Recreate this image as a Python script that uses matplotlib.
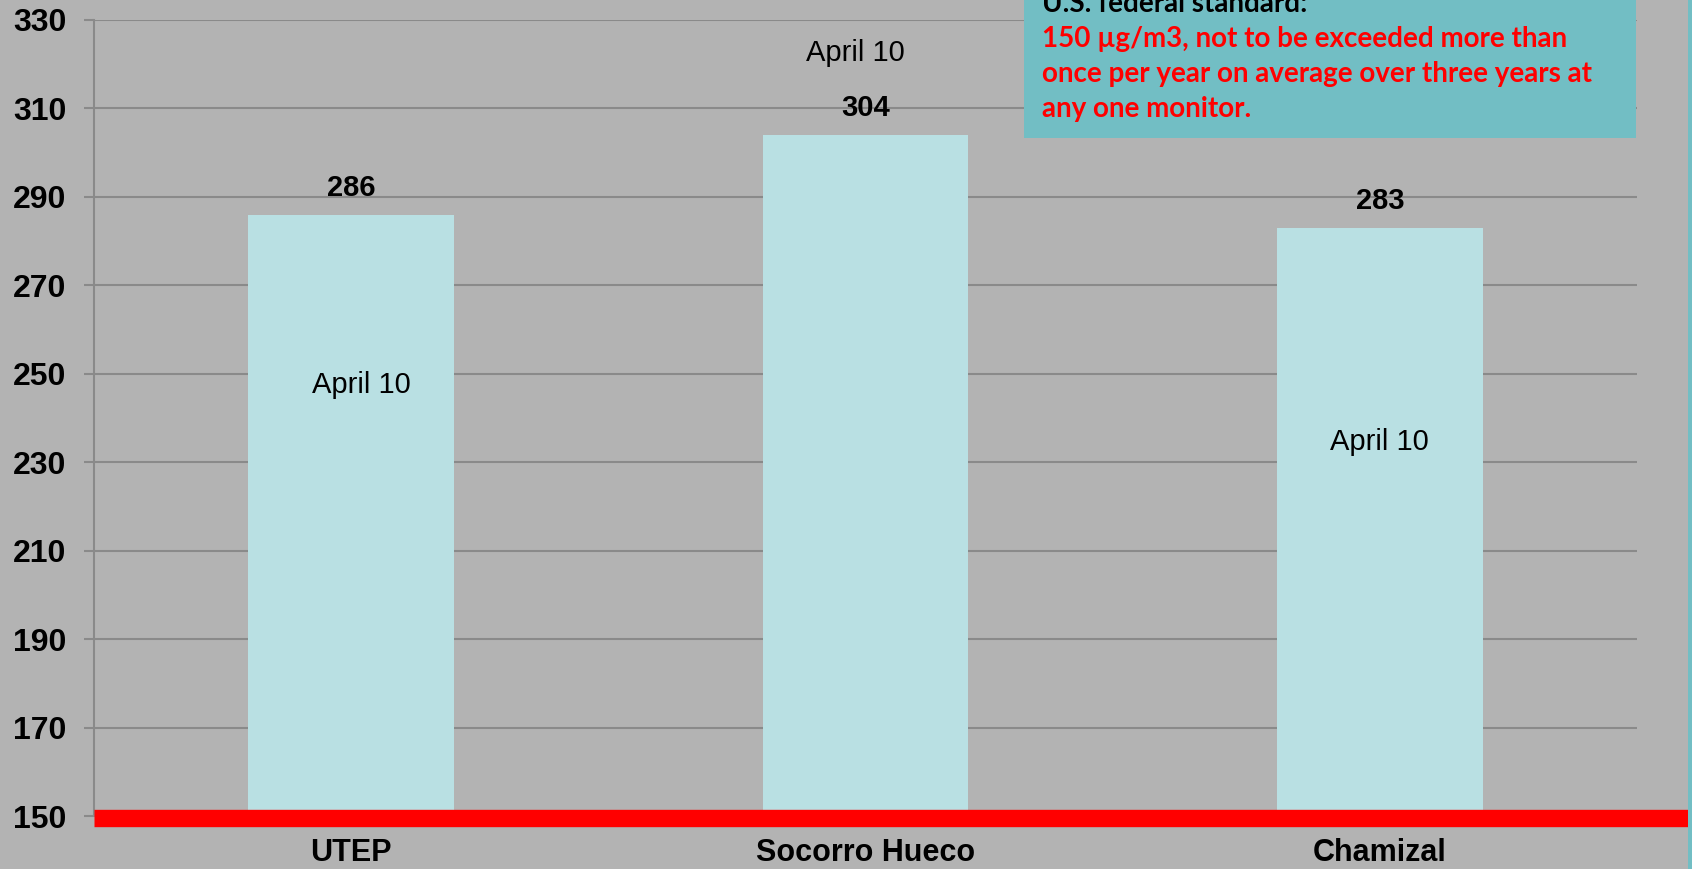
import matplotlib
matplotlib.use("Agg")
import matplotlib.pyplot as plt
from matplotlib.patches import Rectangle

# data
sites = ["UTEP", "Socorro Hueco", "Chamizal"]
pm10 = [286, 304, 283]
dates = ["April 10", "April 10", "April 10"]
date_y = [247.5, 322.5, 234.5]   # where the date label sits on each bar
date_dx = [0.02, -0.02, 0.0]
y_ticks = list(range(150, 331, 20))
standard = 150

note_head = "U.S. federal standard:"
note_lines = ["150 \u00b5g/m3, not to be exceeded more than",
              "once per year on average over three years at",
              "any one monitor."]

BG = "#b3b3b3"
BAR = "#b9e0e3"
TEAL = "#72bec4"
GRID = "#8a8a8a"

W, H = 1692, 869
fig = plt.figure(figsize=(W / 100, H / 100), dpi=100, facecolor=BG)
ax = fig.add_axes([94 / W, 1 - 816 / H, (1637 - 94) / W, (816 - 20) / H])
ax.set_facecolor(BG)

x = list(range(len(sites)))
ax.bar(x, [v - standard for v in pm10], bottom=standard, width=0.4,
       color=BAR, zorder=2)

ax.set_xlim(-0.5, 2.5)
ax.set_ylim(150, 330)
ax.set_yticks(y_ticks)
ax.yaxis.grid(True, color=GRID, linewidth=1.5, zorder=1)
ax.set_axisbelow(True)

for s in ["top", "right", "bottom"]:
    ax.spines[s].set_visible(False)
ax.spines["left"].set_color(GRID)
ax.spines["left"].set_linewidth(1.5)

ax.tick_params(axis="y", length=7, width=1.5, color=GRID, pad=13,
               labelsize=23)
ax.tick_params(axis="x", length=0, pad=16, labelsize=22)
ax.set_xticks(x)
ax.set_xticklabels(sites, fontweight="bold", family="Liberation Sans")
for lab in ax.get_yticklabels():
    lab.set_fontweight("bold")
    lab.set_family("Liberation Sans")

for xi, v, d, dy, dx in zip(x, pm10, dates, date_y, date_dx):
    ax.text(xi, v + 6, str(v), ha="center", va="center", fontsize=21,
            fontweight="bold", family="Liberation Sans", zorder=3)
    ax.text(xi + dx, dy, d, ha="center", va="center", fontsize=21,
            family="Liberation Sans", zorder=3)

# the standard line, runs off to the right edge
ax.axhline(standard - 0.4, xmin=0, xmax=(1688 - 94) / (1637 - 94),
           color="red", linewidth=12.5, clip_on=False, zorder=4,
           solid_capstyle="butt")

# note box top right + strip at the edge
fig.patches.append(Rectangle((1024 / W, 1 - 138 / H), (1636 - 1024) / W,
                             138 / H + 0.01, transform=fig.transFigure,
                             facecolor=TEAL, edgecolor="none", zorder=5))
fig.patches.append(Rectangle((1688 / W, 0), 4 / W + 0.01, 1.0,
                             transform=fig.transFigure,
                             facecolor=TEAL, edgecolor="none", zorder=5))

# header line is cut by the top edge, as in the original slide
fig.text(1042 / W, 1 - 4 / H, note_head, ha="left", va="center",
         fontsize=20, fontweight="bold", family="Lato", color="black",
         zorder=6)
for i, line in enumerate(note_lines):
    fig.text(1042 / W, 1 - (39 + 35 * i) / H, line, ha="left", va="center",
             fontsize=20, fontweight="bold", family="Lato", color="red",
             zorder=6)

fig.savefig("out.png", dpi=100, facecolor=BG)
